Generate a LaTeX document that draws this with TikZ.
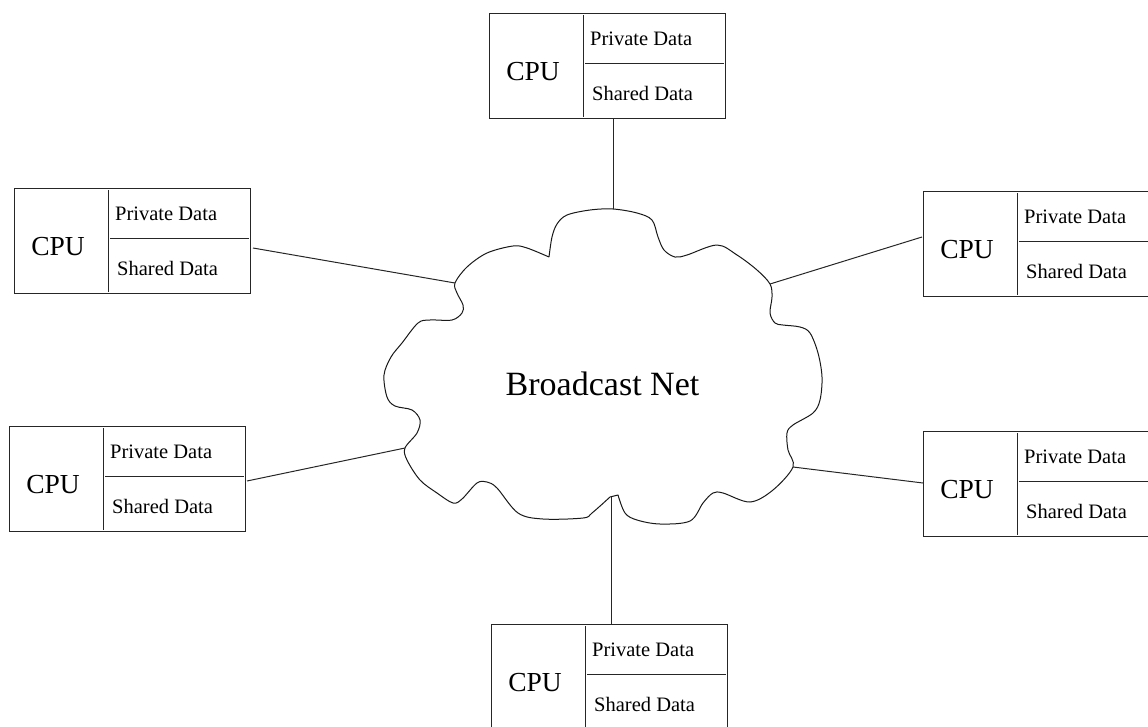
\documentclass[tikz,border=0pt]{standalone}
\usepackage{fontspec}
\setmainfont{Liberation Serif}
\usetikzlibrary{calc}
\tikzset{
  cpubox/.style={draw=black!85, line width=1pt, minimum width=236pt, minimum height=105pt, inner sep=0pt, anchor=north west},
  divline/.style={draw=black!85, line width=1pt},
  conn/.style={draw=black!85, line width=1pt},
  cloudline/.style={draw=black!90, line width=1pt, line join=round},
  cputext/.style={font=\fontsize{27.5}{30}\selectfont, inner sep=0pt, anchor=base},
  datatext/.style={font=\fontsize{20.5}{23}\selectfont, inner sep=0pt, anchor=base west},
  nettext/.style={font=\fontsize{34}{38}\selectfont, inner sep=0pt, anchor=base}
}
\newcommand\cpubox[3]{%
  \node[cpubox] (#1) at (#2,#3) {};
  \draw[divline] ($(#1.north west)+(94,2)$) -- ($(#1.south west)+(94,-2)$);
  \draw[divline] ($(#1.north west)+(96,50)$) -- ($(#1.north east)+(-2,50)$);
  \node[cputext] (#1-cpu) at ($(#1.north west)+(44,67)$) {CPU};
  \node[datatext] (#1-priv) at ($(#1.north west)+(101,32)$) {Private Data};
  \node[datatext] (#1-shared) at ($(#1.north west)+(103,87)$) {Shared Data};
}
\begin{document}
\begin{tikzpicture}[x=1pt,y=-1pt]
\useasboundingbox (0,0) rectangle (1148,726);
\clip (0,0) rectangle (1148,726);
% cloud
\draw[cloudline]
  plot[smooth, tension=0.55] coordinates {
  (549,257) (552,237) (557,224) (567,215) (590,210) (613,209) (637,213) (652,220) (658,237) (664,250) (675,257)
  (687,255) (717,245) (737,255) (757,270) (770,284) (772,297) (770,313) (775,323) (783,325) (800,327) (810,333)
  (818,353) (822,377) (820,400) (813,413) (793,425) (787,433) (788,450) (793,467) (773,490) (750,502) (723,493)
  (713,493) (703,503) (690,521) (660,524) (637,520) (625,513) (618,495)}
  -- plot[smooth, tension=0.55] coordinates {
  (610,497) (592,513) (583,518) (543,519) (518,513) (497,488) (487,482) (477,483) (462,499) (453,503) (437,493)
  (420,480) (407,460) (405,448) (417,433) (420,420) (412,410) (395,406) (387,397) (384,375) (391,357) (402,343)
  (418,323) (430,320) (452,320) (462,313) (463,305) (457,293) (455,283) (467,267) (487,253) (513,246) (527,248) (549,257)};
\node[nettext] (net) at (602.5,395) {Broadcast Net};
% attach points on the cloud
\coordinate (ctop) at (613,209);
\coordinate (clt) at (455,283);
\coordinate (crt) at (770,284);
\coordinate (clb) at (405,448);
\coordinate (crb) at (793,467);
\coordinate (cbot) at (611,497);
% boxes
\cpubox{top}{489}{13}
\cpubox{lt}{14}{188}
\cpubox{rt}{923}{191}
\cpubox{lb}{9}{426}
\cpubox{rb}{923}{431}
\cpubox{bot}{491}{624}
% connectors
\draw[conn] (ctop |- top.south) -- (ctop);
\draw[conn] ($(lt.north east)+(2,60)$) -- (clt);
\draw[conn] ($(lb.north east)+(1,55)$) -- (clb);
\draw[conn] (crt) -- ($(rt.north west)+(-1,46)$);
\draw[conn] (crb) -- ($(rb.north west)+(0,52)$);
\draw[conn] (cbot) -- (cbot |- bot.north);
\end{tikzpicture}
\end{document}
